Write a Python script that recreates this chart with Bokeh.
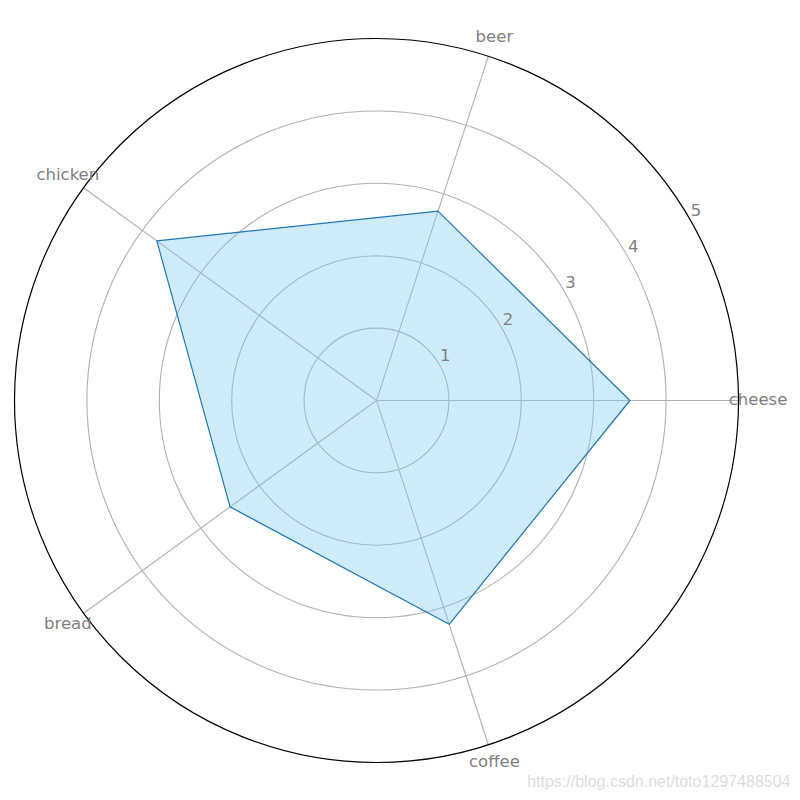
import numpy as np
from bokeh.plotting import figure
from bokeh.embed import file_html
from bokeh.resources import INLINE
from bokeh.core.properties import value

categories = ["cheese", "beer", "chicken", "bread", "coffee"]
values = [3.5, 2.75, 3.75, 2.5, 3.25]
r_ticks = [1, 2, 3, 4, 5]
r_max = 5
watermark = "https://blog.csdn.net/toto1297488504"

U = 72.4  # px per unit
W = H = 792
cx, cy = 376, 400  # center in plot pixels (from left, from top)

p = figure(width=W, height=H, output_backend="svg", toolbar_location=None,
           x_range=(-cx / U, (W - cx) / U), y_range=(-(H - cy) / U, cy / U),
           min_border=0)
p.axis.visible = False
p.grid.visible = False
p.outline_line_color = None
p.background_fill_color = "white"

n = len(categories)
ang = np.arange(n) * 2 * np.pi / n

# grid circles
p.circle(x=[0] * 4, y=[0] * 4, radius=r_ticks[:-1], fill_color=None,
         line_color="#b0b0b0", line_width=1.1)
# spokes
for a in ang:
    p.line([0, r_max * np.cos(a)], [0, r_max * np.sin(a)], line_color="#b0b0b0", line_width=1.1)

# data polygon
v = np.array(values)
xs = v * np.cos(ang)
ys = v * np.sin(ang)
p.patch(list(xs), list(ys), fill_color="skyblue", fill_alpha=0.4,
        line_color="#1f77b4", line_width=1.2)

# outer circle
p.circle(x=[0], y=[0], radius=r_max, fill_color=None, line_color="black", line_width=1.2)

# category labels
lr = 5.27
p.text(x=list(lr * np.cos(ang)), y=list(lr * np.sin(ang)), text=categories,
       y_offset=-1.5,
       text_font=value("DejaVu Sans"), text_font_size="16.5px", text_color="#808080",
       text_align="center", text_baseline="middle")

# radial tick labels
ta = np.deg2rad(30)
tr = np.array(r_ticks, dtype=float)
p.text(x=list(tr * np.cos(ta)), y=list(tr * np.sin(ta)), text=[str(t) for t in r_ticks],
       x_offset=6, y_offset=-9.5,
       text_font=value("DejaVu Sans"), text_font_size="16.5px", text_color="#808080",
       text_align="center", text_baseline="middle")

# watermark
p.text(x=[(790 - cx) / U], y=[-(781 - cy) / U], text=[watermark],
       text_font=value("Liberation Sans"), text_font_size="16px", text_color="#dcdcdc",
       text_align="right", text_baseline="middle")

open("out.html", "w").write(file_html(p, INLINE))
